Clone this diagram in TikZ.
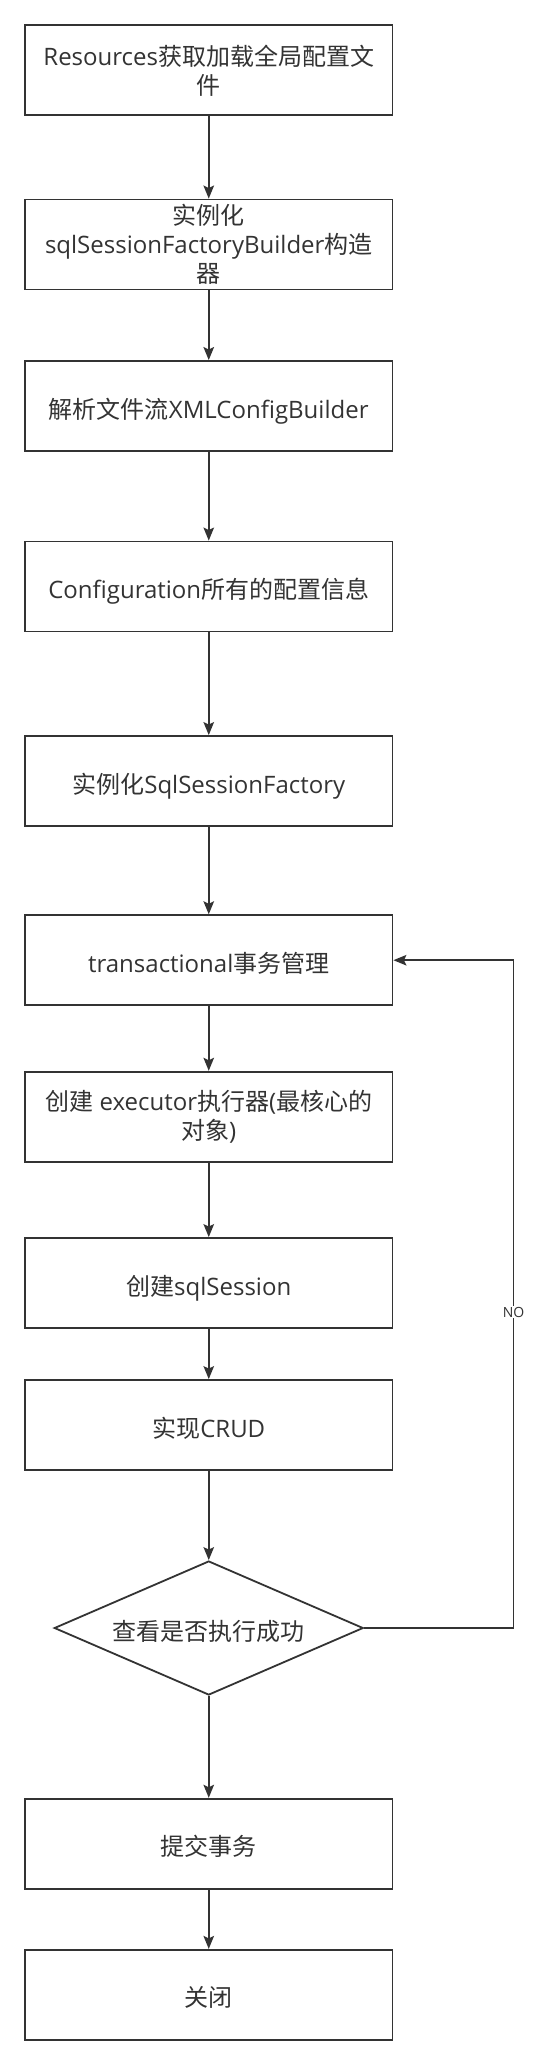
\documentclass[tikz,border=0pt]{standalone}
\usepackage{fontspec}
\setmainfont{Open Sans}
\newfontfamily\cjk{Noto Sans CJK SC}
\usetikzlibrary{shapes.geometric,arrows.meta}
\definecolor{ink}{HTML}{333333}
\newcommand{\zh}[1]{{\cjk #1}}
\begin{document}
\begin{tikzpicture}[x=1pt,y=-1pt,
 box/.style={draw=ink, line width=1.8pt, minimum width=367.5pt, minimum height=90pt, inner sep=0pt, align=center, text=ink, font=\fontsize{24}{29}\selectfont},
 onebox/.style={box, text height=24pt, text depth=0pt},
 dec/.style={diamond, draw=ink, line width=1.8pt, minimum width=309pt, minimum height=134pt, aspect=2.3, inner sep=0pt, text height=24pt, text depth=0pt, text=ink, font=\fontsize{24}{29}\selectfont},
 flow/.style={draw=ink, line width=1.8pt, -{Stealth[length=13pt,width=10.5pt,inset=2.5pt]}},
 lbl/.style={fill=white, text=ink, inner sep=1pt, font=\fontsize{14}{16}\selectfont},
]
\useasboundingbox (0,0) rectangle (539,2066);
\fill[white] (0,0) rectangle (539,2066);
\node[box] (n1) at (208.75,70.25) {Resources\zh{获取加载全局配置文}\\\zh{件}};
\node[box] (n2) at (208.75,244.5) {\zh{实例化}\\sqlSessionFactoryBuilder\zh{构造}\\\zh{器}};
\node[onebox] (n3) at (208.75,406) {\zh{解析文件流}XMLConfigBuilder};
\node[onebox] (n4) at (208.75,586.5) {Configuration\zh{所有的配置信息}};
\node[onebox] (n5) at (208.75,781) {\zh{实例化}SqlSessionFactory};
\node[onebox] (n6) at (208.75,960.2) {transactional\zh{事务管理}};
\node[box] (n7) at (208.75,1116.7) {\zh{创建} executor\zh{执行器}(\zh{最核心的}\\\zh{对象})};
\node[onebox] (n8) at (208.75,1283) {\zh{创建}sqlSession};
\node[onebox] (n9) at (208.75,1425) {\zh{实现}CRUD};
\node[dec] (d) at (208.75,1628) {\zh{查看是否执行成功}};
\node[onebox] (n10) at (208.75,1843.7) {\zh{提交事务}};
\node[onebox] (n11) at (208.75,1994.8) {\zh{关闭}};
\draw[flow] (n1) -- (n2);
\draw[flow] (n2) -- (n3);
\draw[flow] (n3) -- (n4);
\draw[flow] (n4) -- (n5);
\draw[flow] (n5) -- (n6);
\draw[flow] (n6) -- (n7);
\draw[flow] (n7) -- (n8);
\draw[flow] (n8) -- (n9);
\draw[flow] (n9) -- (d);
\draw[flow] (d) -- (n10);
\draw[flow] (n10) -- (n11);
\coordinate (k) at (513.5,1628);
\draw[flow] (d.east) -- (k) |- (n6.east);
\node[lbl] (no) at (513.5,1312) {NO};
\end{tikzpicture}
\end{document}
